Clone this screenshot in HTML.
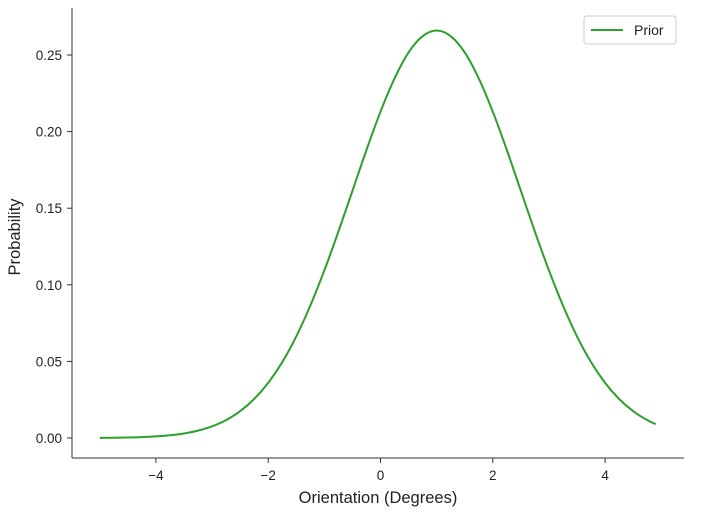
<!DOCTYPE html>
<html><head><meta charset="utf-8"><style>
body{margin:0;background:#fff;}
svg{display:block;font-family:"Liberation Sans","DejaVu Sans",sans-serif;}
</style></head><body>
<svg id="chart" width="708" height="517">
<g id="axes"></g>
<path id="curve" fill="none" stroke="#2ca02c" stroke-width="2"/>
<g>
<rect x="584" y="16" width="92" height="28" rx="3" fill="#fff" stroke="#ccc"/>
<line x1="591" y1="30" x2="623" y2="30" stroke="#2ca02c" stroke-width="2"/>
<text x="634" y="35" font-size="14" fill="#222">Prior</text>
</g>
<text x="378" y="503" font-size="16.5" text-anchor="middle" fill="#222">Orientation (Degrees)</text>
<text transform="translate(20,237) rotate(-90)" font-size="16.5" text-anchor="middle" fill="#222">Probability</text>
</svg>
<script>
const xs=[-5,-4.75,-4.5,-4.25,-4,-3.75,-3.5,-3.25,-3,-2.75,-2.5,-2.25,-2,-1.75,-1.5,-1.25,-1,-0.75,-0.5,-0.25,0,0.25,0.5,0.75,1,1.25,1.5,1.75,2,2.25,2.5,2.75,3,3.25,3.5,3.75,4,4.25,4.5,4.75,4.9];
const ys=[0.00009,0.00017,0.00032,0.00058,0.00103,0.00177,0.00295,0.0048,0.0076,0.01168,0.01748,0.02545,0.036,0.0495,0.0663,0.0864,0.1094,0.1347,0.1613,0.188,0.213,0.2347,0.2517,0.2623,0.266,0.2623,0.2517,0.2347,0.213,0.188,0.1613,0.1347,0.1094,0.0864,0.0663,0.0495,0.036,0.02545,0.01748,0.01168,0.00905];
const xTicks=[-4,-2,0,2,4];
const yTicks=[0,0.05,0.10,0.15,0.20,0.25];
const xTickLabels=["\u22124","\u22122","0","2","4"];
const yTickLabels=["0.00","0.05","0.10","0.15","0.20","0.25"];
const X=v=>380.5+v*56.15;
const Y=v=>438-v*1532;
const NS="http://www.w3.org/2000/svg";
const ax=document.getElementById('axes');
function mk(t,a){const e=document.createElementNS(NS,t);for(const k in a)e.setAttribute(k,a[k]);ax.appendChild(e);return e;}
let e=mk('line',{x1:72,y1:8,x2:72,y2:458,stroke:'#333','stroke-width':1});


e=mk('line',{x1:72,y1:458,x2:684,y2:458,stroke:'#333','stroke-width':1});


xTicks.forEach((v,i)=>{
 const t=mk('line',{x1:X(v),y1:458,x2:X(v),y2:463,stroke:'#333'});
 
 
 const l=mk('text',{x:X(v),y:480,'font-size':13.5,'text-anchor':'middle',fill:'#222'});
 l.textContent=xTickLabels[i];
 
 
});
yTicks.forEach((v,i)=>{
 const t=mk('line',{x1:67,y1:Y(v),x2:72,y2:Y(v),stroke:'#333'});
 
 
 const l=mk('text',{x:62,y:Y(v)+5,'font-size':13.5,'text-anchor':'end',fill:'#222'});
 l.textContent=yTickLabels[i];
 
 
});
const P=xs.map((x,i)=>[X(x),Y(ys[i])]);
let d='M'+P[0][0].toFixed(2)+','+P[0][1].toFixed(2);
for(let i=0;i<P.length-1;i++){
 const p0=P[Math.max(0,i-1)],p1=P[i],p2=P[i+1],p3=P[Math.min(P.length-1,i+2)];
 const c1x=p1[0]+(p2[0]-p0[0])/6,c1y=p1[1]+(p2[1]-p0[1])/6;
 const c2x=p2[0]-(p3[0]-p1[0])/6,c2y=p2[1]-(p3[1]-p1[1])/6;
 d+='C'+c1x.toFixed(2)+','+c1y.toFixed(2)+' '+c2x.toFixed(2)+','+c2y.toFixed(2)+' '+p2[0].toFixed(2)+','+p2[1].toFixed(2);
}
document.getElementById('curve').setAttribute('d',d);
</script>
</body></html>
